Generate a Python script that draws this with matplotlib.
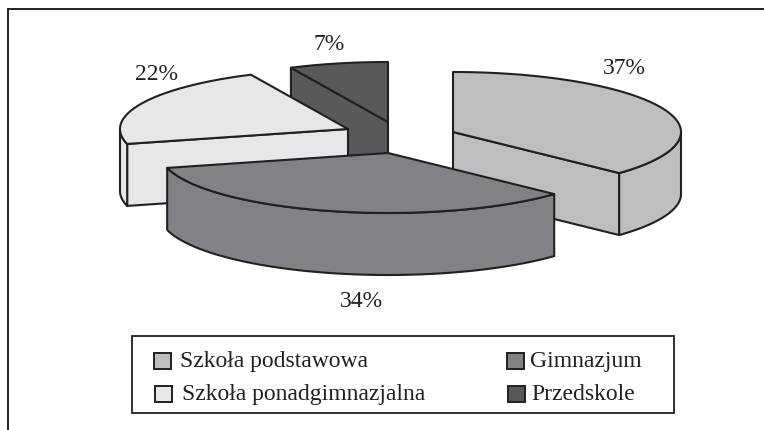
"""
Exploded 3D pie of school levels, drawn by hand because matplotlib has no 3D pie.
"""

### Importing libraries
import numpy as np
import matplotlib
matplotlib.use('Agg')
import matplotlib.pyplot as plt
from matplotlib.patches import Polygon, Rectangle

### Data
shares      = [37, 34, 22, 7]
pie_labels  = ['37%', '34%', '22%', '7%']
names       = ['Szkoła podstawowa', 'Gimnazjum', 'Szkoła ponadgimnazjalna', 'Przedskole']

### Style
colors      = ['#BCBEC0', '#808285', '#E6E7E8', '#58595B']
line_color  = '#231F20'
apexes      = [(453, 133), (388, 154), (348, 130), (388, 123)] # exploded slice apexes, pixels
label_pos   = [(624, 69), (361, 302), (157, 74), (329, 45)]
legend_pos  = [(154, 354, 180), (507, 354, 530), (155, 387, 182), (508, 387, 531)] # swatch x, y, text x
rx, ry      = 228, 60 # ellipse radii in pixels
depth       = 62 # thickness of the pie in pixels
lw          = 1.5

plt.rcParams['font.family'] = ['Liberation Serif', 'DejaVu Serif']

fig = plt.figure(figsize=(7.64, 4.31), dpi=100)
ax = fig.add_axes([0, 0, 1, 1])
ax.set_xlim(0, 764)
ax.set_ylim(431, 0)
ax.axis('off')

### Functions
def arc(apex, a1, a2):
    """
    Points on the top rim between two angles (degrees clockwise from north).
    """
    t = np.radians(np.linspace(a1, a2, 80))
    return np.column_stack([apex[0] + rx * np.sin(t), apex[1] - ry * np.cos(t)])

def draw_face(points, color):
    ax.add_patch(Polygon(points, closed=True, facecolor=color, edgecolor=line_color,
                         linewidth=lw, joinstyle='round'))

def drop(points):
    return np.asarray(points) + [0, depth]

def draw_slice(i, a1, a2):
    apex = apexes[i]
    color = colors[i]

    # cut faces, only the ones turned to the viewer
    for angle, visible in [(a1, np.sin(np.radians(a1)) < -1e-6), (a2, np.sin(np.radians(a2)) > 1e-6)]:
        if visible:
            edge = np.vstack([[apex], arc(apex, angle, angle)[:1]])
            draw_face(np.vstack([edge, drop(edge)[::-1]]), color)

    # outer wall, front half of the ellipse only
    lo, hi = max(a1, 90), min(a2, 270)
    if lo < hi:
        rim = arc(apex, lo, hi)
        draw_face(np.vstack([rim, drop(rim)[::-1]]), color)

    # top face
    draw_face(np.vstack([[apex], arc(apex, a1, a2)]), color)

### Pie
edges = np.cumsum([0] + shares) / sum(shares) * 360
for i in [3, 0, 2, 1]: # back to front
    draw_slice(i, edges[i], edges[i + 1])

for (x, y), text in zip(label_pos, pie_labels):
    ax.text(x, y, text, fontsize=17, color=line_color, ha='center', va='center')

### Legend
ax.add_patch(Rectangle((132, 337), 542, 77, facecolor='white', edgecolor=line_color, linewidth=1.3))
for (sx, sy, tx), name, color in zip(legend_pos, names, colors):
    ax.add_patch(Rectangle((sx, sy), 17, 16, facecolor=color, edgecolor=line_color, linewidth=1.4))
    ax.text(tx, sy + 8, name, fontsize=17, color=line_color, ha='left', va='center')

### Outer frame, open on the right
ax.plot([8, 8, 764], [431, 10, 10], color=line_color, linewidth=1.4, solid_joinstyle='miter')

plt.savefig('out.png', dpi=100)
